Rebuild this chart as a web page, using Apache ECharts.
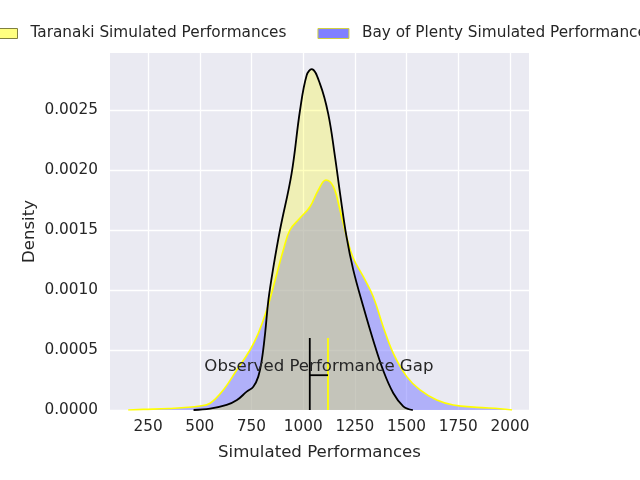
<!DOCTYPE html>
<html>
<head>
<meta charset="utf-8">
<script src="https://cdn.jsdelivr.net/npm/echarts@6/dist/echarts.min.js"></script>
<style>
  html, body { margin: 0; padding: 0; background: #ffffff; }
  #chart { width: 640px; height: 480px; }
</style>
</head>
<body>
<div id="chart"></div>
<script>
// Taranaki KDE (black outline, yellow fill)
const taranakiX = [470, 550, 630, 680, 727, 759, 783, 800, 816, 832, 856, 888, 944, 985, 1017, 1041, 1081, 1121, 1154, 1178, 1210, 1242, 1291, 1339, 1387, 1436, 1484, 1516, 1530];
const taranakiY = [0, 0.000011, 0.000042, 0.000083, 0.000153, 0.000194, 0.000278, 0.000417, 0.000639, 0.000917, 0.00119, 0.0015, 0.00197, 0.0025, 0.00279, 0.00284, 0.00272, 0.00247, 0.00211, 0.00181, 0.00144, 0.00117, 0.00086, 0.00058, 0.00033, 0.00014, 0.00003, 0.000004, 0];

// Bay of Plenty KDE (yellow outline, blue fill)
const bopX = [154, 227, 350, 501, 550, 614, 679, 743, 783, 824, 856, 904, 936, 985, 1033, 1073, 1110, 1146, 1178, 1210, 1242, 1291, 1339, 1387, 1436, 1501, 1565, 1646, 1726, 1839, 1952, 2010];
const bopY = [0, 0.000005, 0.000012, 0.000033, 0.000056, 0.000167, 0.000333, 0.0005, 0.000639, 0.000833, 0.001028, 0.001333, 0.0015, 0.0016, 0.001694, 0.001833, 0.001917, 0.001861, 0.001667, 0.001444, 0.001267, 0.001111, 0.000944, 0.000694, 0.000472, 0.000278, 0.000167, 0.000083, 0.000042, 0.000022, 0.000011, 0];

// observed performances and the gap marker
const observedTaranaki = 1032;
const observedBop = 1120;
const markerHeight = 0.0006;
const gapLevel = 0.00029;
const gapLabel = 'Observed Performance Gap';
const gapLabelY = 0.00036;

const xTicks = [250, 500, 750, 1000, 1250, 1500, 1750, 2000];
const yTicks = [0, 0.0005, 0.001, 0.0015, 0.002, 0.0025];

const seriesNames = ['Taranaki Simulated Performances', 'Bay of Plenty Simulated Performances'];

function pairs(xs, ys) {
    return xs.map((x, i) => [x, ys[i]]);
}

const chart = echarts.init(document.getElementById('chart'));
const textColor = '#262626';
const font = 'DejaVu Sans';

chart.setOption({
    animation: false,
    textStyle: { fontFamily: font },
    legend: {
        data: [
            { name: seriesNames[0], itemStyle: { color: '#ffff80', borderColor: '#80803f', borderWidth: 1 } },
            { name: seriesNames[1], itemStyle: { color: '#8080ff', borderColor: '#d0d040', borderWidth: 1 } }
        ],
        icon: 'rect',
        padding: 0,
        left: -14,
        top: 26,
        width: 900,
        itemWidth: 31,
        itemHeight: 10,
        itemGap: 31,
        textStyle: { color: textColor, fontSize: 15.3, fontFamily: font, padding: [0, 0, 0, 8] }
    },
    grid: {
        left: 110,
        right: 111,
        top: 53,
        bottom: 70,
        show: true,
        backgroundColor: '#eaeaf2',
        borderWidth: 0
    },
    xAxis: {
        type: 'value',
        min: 66,
        max: 2092,
        name: 'Simulated Performances',
        nameLocation: 'middle',
        nameGap: 34,
        nameTextStyle: { color: textColor, fontSize: 16.6, fontFamily: font },
        axisLine: { show: false },
        axisTick: { show: false, customValues: xTicks },
        axisLabel: {
            customValues: xTicks,
            color: textColor,
            fontSize: 15.3,
            margin: 10,
            fontFamily: font,
            formatter: v => String(v)
        },
        splitLine: { show: true, lineStyle: { color: '#ffffff', width: 1.3 } }
    },
    yAxis: {
        type: 'value',
        min: 0,
        max: 0.002975,
        name: 'Density',
        nameLocation: 'middle',
        nameGap: 72,
        nameMoveOverlap: false,
        nameTextStyle: { color: textColor, fontSize: 16.6, fontFamily: font },
        axisLine: { show: false },
        axisTick: { show: false, customValues: yTicks },
        axisLabel: {
            customValues: yTicks,
            color: textColor,
            fontSize: 15.3,
            margin: 12,
            fontFamily: font,
            formatter: v => v.toFixed(4)
        },
        splitLine: { show: true, lineStyle: { color: '#ffffff', width: 1.3 } }
    },
    series: [
        {
            name: seriesNames[1],
            type: 'line',
            data: pairs(bopX, bopY),
            smooth: 0.4,
            showSymbol: false,
            lineStyle: { color: '#ffff00', width: 1.6 },
            areaStyle: { color: 'rgba(128, 128, 255, 0.55)', opacity: 1 }
        },
        {
            name: seriesNames[0],
            type: 'line',
            data: pairs(taranakiX, taranakiY),
            smooth: 0.4,
            showSymbol: false,
            lineStyle: { color: '#000000', width: 1.8 },
            areaStyle: { color: 'rgba(255, 255, 0, 0.25)', opacity: 1 }
        },
        {
            name: 'taranakiObs',
            type: 'line',
            data: [[observedTaranaki, 0], [observedTaranaki, markerHeight]],
            showSymbol: false,
            lineStyle: { color: '#000000', width: 1.8 }
        },
        {
            name: 'bopObs',
            type: 'line',
            data: [[observedBop, 0], [observedBop, markerHeight]],
            showSymbol: false,
            lineStyle: { color: '#ffff00', width: 1.8 }
        },
        {
            name: 'gap',
            type: 'line',
            data: [[observedTaranaki, gapLevel], [observedBop, gapLevel]],
            showSymbol: false,
            lineStyle: { color: '#000000', width: 1.8 }
        },
        {
            name: 'gapText',
            type: 'scatter',
            z: 20,
            data: [[(observedTaranaki + observedBop) / 2, gapLabelY]],
            symbolSize: 0,
            itemStyle: { color: textColor },
            label: {
                show: true,
                position: 'inside',
                formatter: gapLabel,
                color: textColor,
                textBorderWidth: 0,
                textBorderColor: 'transparent',
                opacity: 1,
                fontSize: 16.6,
                fontFamily: font
            }
        }
    ]
});
</script>
</body>
</html>
